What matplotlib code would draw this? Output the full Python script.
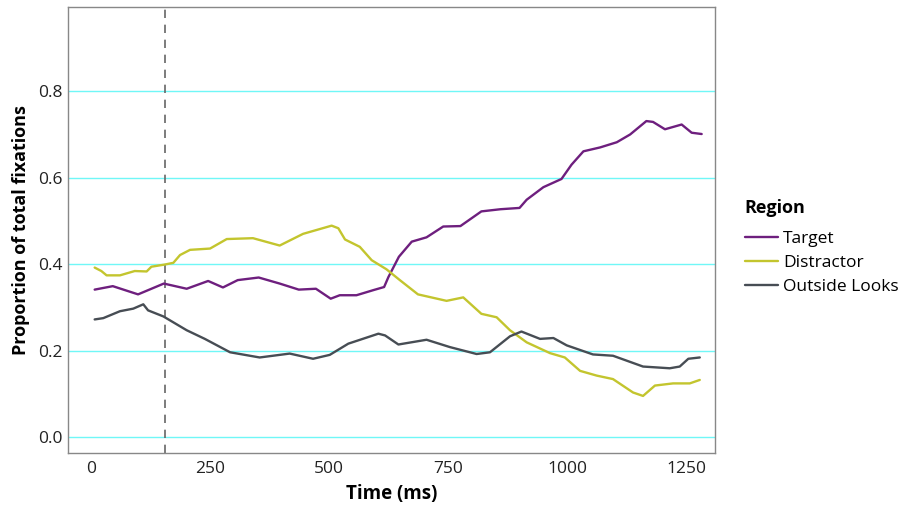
import matplotlib
matplotlib.use("Agg")
import matplotlib.pyplot as plt

plt.rcParams['font.family'] = ['Open Sans', 'DejaVu Sans']

# 读图得到的数据 (ms, proportion)
target_t = [8, 46, 99, 153, 201, 246, 277, 308, 352, 396, 436, 472, 503, 522, 557, 593,
            615, 624, 646, 673, 704, 739, 775, 819, 859, 899, 914, 949, 987, 1008, 1033,
            1068, 1103, 1131, 1165, 1179, 1204, 1239, 1260, 1281]
target_p = [0.341, 0.349, 0.330, 0.355, 0.343, 0.361, 0.346, 0.363, 0.369, 0.355, 0.341,
            0.343, 0.320, 0.328, 0.328, 0.340, 0.347, 0.370, 0.417, 0.452, 0.462, 0.487,
            0.488, 0.522, 0.527, 0.530, 0.549, 0.578, 0.597, 0.630, 0.661, 0.670, 0.682,
            0.700, 0.731, 0.729, 0.712, 0.723, 0.704, 0.701]

distractor_t = [8, 22, 33, 61, 92, 117, 127, 155, 173, 187, 208, 250, 285, 340, 396, 445,
                505, 519, 533, 564, 589, 620, 648, 686, 746, 781, 819, 851, 879, 914, 963,
                994, 1026, 1061, 1095, 1137, 1158, 1183, 1221, 1256, 1277]
distractor_p = [0.392, 0.384, 0.374, 0.374, 0.384, 0.383, 0.394, 0.399, 0.403, 0.421, 0.433,
                0.436, 0.458, 0.460, 0.443, 0.470, 0.489, 0.483, 0.457, 0.440, 0.409, 0.388,
                0.363, 0.330, 0.315, 0.323, 0.285, 0.277, 0.247, 0.219, 0.194, 0.184, 0.153,
                0.142, 0.134, 0.103, 0.095, 0.119, 0.124, 0.124, 0.132]

outside_t = [8, 26, 61, 89, 110, 120, 152, 201, 239, 292, 354, 417, 466, 501, 540, 603, 617,
             645, 704, 753, 809, 837, 879, 903, 942, 970, 998, 1053, 1095, 1158, 1214, 1235,
             1253, 1277]
outside_p = [0.272, 0.275, 0.291, 0.297, 0.307, 0.293, 0.279, 0.247, 0.227, 0.196, 0.184,
             0.193, 0.181, 0.190, 0.216, 0.239, 0.235, 0.214, 0.225, 0.208, 0.192, 0.196,
             0.233, 0.244, 0.227, 0.229, 0.212, 0.191, 0.188, 0.163, 0.159, 0.163, 0.181,
             0.184]

onset_ms = 155
x_ticks = [0, 250, 500, 750, 1000, 1250]
y_ticks = [0.0, 0.2, 0.4, 0.6, 0.8]

fig = plt.figure(figsize=(9.16, 5.08), dpi=100)
ax = fig.add_axes([0.0742, 0.1083, 0.7064, 0.878])

for y in y_ticks:
    ax.axhline(y, color='#70f7f7', linewidth=1.0, zorder=0)

ax.axvline(onset_ms, color='#666666', linestyle=(0, (5, 4)), linewidth=1.2, zorder=1)

line_kw = dict(linewidth=1.7, solid_joinstyle='round', solid_capstyle='round')
ax.plot(target_t, target_p, color='#6e1f7e', label='Target', **line_kw)
ax.plot(distractor_t, distractor_p, color='#c3c52e', label='Distractor', **line_kw)
ax.plot(outside_t, outside_p, color='#474d54', label='Outside Looks', **line_kw)

ax.set_xlim(-48, 1309)
ax.set_ylim(-0.037, 0.995)
ax.set_xticks(x_ticks)
ax.set_yticks(y_ticks)
ax.set_yticklabels([f'{v:.1f}' for v in y_ticks])
ax.tick_params(length=0, labelsize=12.5, colors='#222222')
ax.tick_params(axis='x', pad=6)
ax.tick_params(axis='y', pad=4)

for s in ax.spines.values():
    s.set_color('#888888')
    s.set_linewidth(1.0)

ax.set_xlabel('Time (ms)', fontsize=13.5, fontweight='bold', labelpad=5)
ax.set_ylabel('Proportion of total fixations', fontsize=13, fontweight='bold', labelpad=6)

leg = ax.legend(title='Region', loc='center left', bbox_to_anchor=(1.046, 0.462),
                frameon=False, fontsize=12.5, title_fontproperties={'weight': 'bold', 'size': 13},
                handlelength=1.9, handletextpad=0.3, labelspacing=0.45, borderaxespad=0,
                borderpad=0)
leg._legend_box.align = 'left'
leg._legend_box.sep = 10

fig.savefig('out.png', dpi=100)
